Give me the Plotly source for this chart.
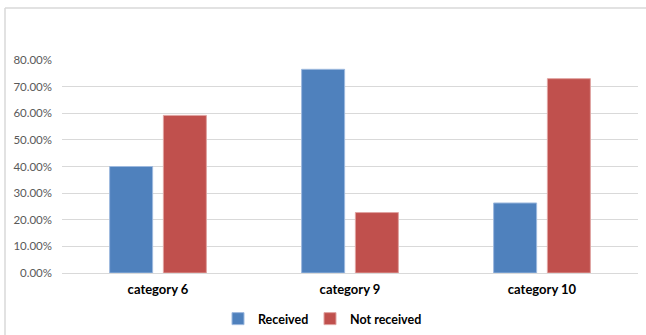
import plotly.graph_objects as go

categories = ["category 6", "category 9", "category 10"]
received = [0.400, 0.765, 0.263]
not_received = [0.592, 0.227, 0.730]
tick_values = [0, 0.1, 0.2, 0.3, 0.4, 0.5, 0.6, 0.7, 0.8]

W, H = 646, 335
L, R, T, B = 62, 8, 60, 62

pw = W - L - R
ph = H - T - B
def px_x(x):
    return (x - L) / pw
def px_y(y):
    return (H - B - y) / ph

fig = go.Figure()
fig.add_trace(go.Bar(
    name="Received", x=categories, y=received, legend="legend",
    marker=dict(color="#4F81BD", line=dict(color="#9DB9DE", width=1)),
))
fig.add_trace(go.Bar(
    name="Not received", x=categories, y=not_received, legend="legend2",
    marker=dict(color="#C0504D", line=dict(color="#E0A3A1", width=1)),
))

# outer chart frame (top and left edges)
frame = dict(color="#D9D9D9", width=1.5)
fig.add_shape(type="line", xref="paper", yref="paper",
              x0=px_x(5), x1=px_x(646), y0=px_y(8), y1=px_y(8), line=frame)
fig.add_shape(type="line", xref="paper", yref="paper",
              x0=px_x(5), x1=px_x(5), y0=px_y(8), y1=px_y(335), line=frame)

legend_font = dict(size=12.5, color="#000000", family="Lato, sans-serif", weight="bold")
legend_common = dict(orientation="h", xanchor="left", yanchor="top",
                     font=legend_font, itemwidth=30, bgcolor="rgba(0,0,0,0)")

fig.update_layout(
    width=W, height=H,
    margin=dict(l=L, r=R, t=T, b=B, autoexpand=False),
    paper_bgcolor="white", plot_bgcolor="white",
    barmode="group", bargap=0.44, bargroupgap=0.2,
    font=dict(family="Lato, Open Sans, sans-serif", size=11.5, color="#595959"),
    showlegend=True,
    legend=dict(x=px_x(218), y=px_y(304), **legend_common),
    legend2=dict(x=px_x(310), y=px_y(304), **legend_common),
    xaxis=dict(showgrid=False, showline=False, ticks="", ticklabelstandoff=7,
               tickfont=dict(size=13, color="#000000", weight="bold")),
    yaxis=dict(range=[0, 0.8], tickvals=tick_values, tickformat=".2%",
               showgrid=True, gridcolor="#D9D9D9", gridwidth=1,
               zeroline=True, zerolinecolor="#D9D9D9", zerolinewidth=1,
               showline=False, ticks="", ticklabelstandoff=9),
)

fig.write_html("out.html")
